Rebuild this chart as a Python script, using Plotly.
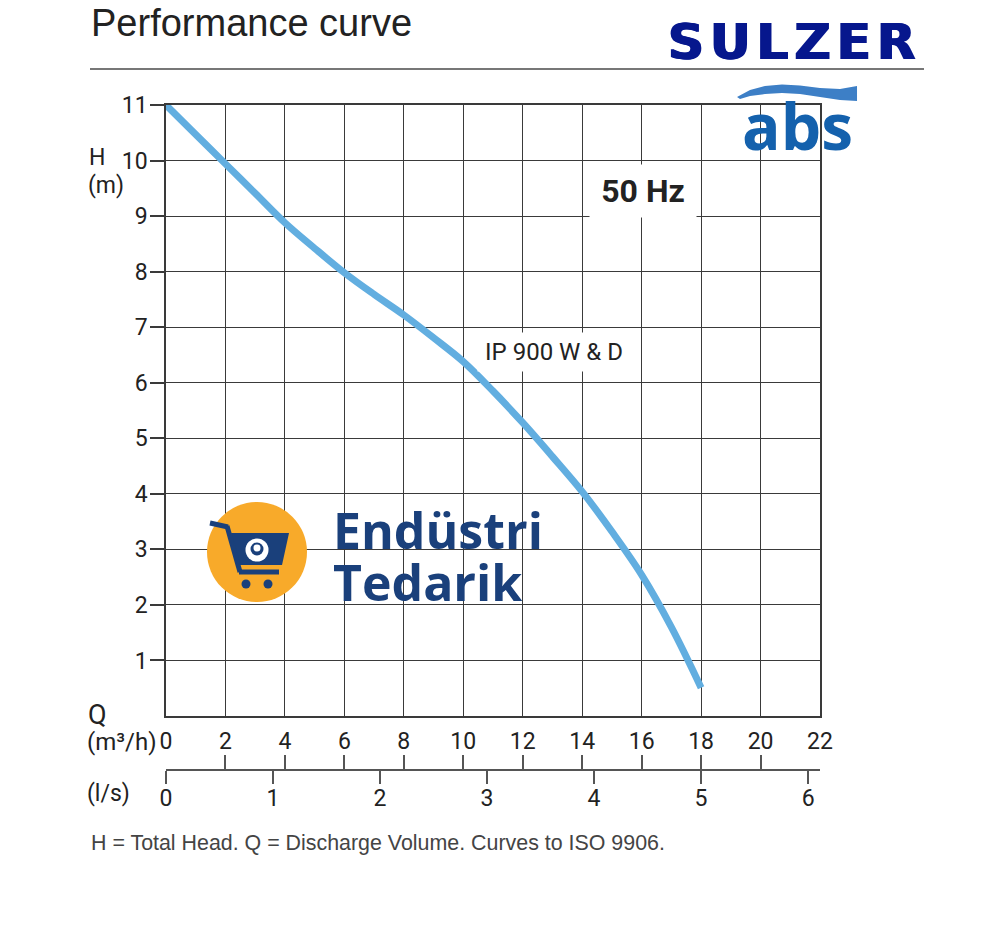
import plotly.graph_objects as go

# Pump curve IP 900 W & D, 50 Hz
flow_m3h = [0, 1, 2, 3, 4, 5, 6, 7, 8, 9, 10, 11, 12, 13, 14, 15, 16, 17, 18]
head_m = [11.0, 10.47, 9.94, 9.41, 8.88, 8.42, 7.98, 7.59, 7.22, 6.81, 6.38,
          5.85, 5.28, 4.67, 4.04, 3.32, 2.54, 1.6, 0.51]

q_ticks = list(range(0, 23, 2))
h_ticks = list(range(1, 12))
ls_ticks = list(range(0, 7))
M3H_PER_LS = 3.6

# the page puts the figure 8px in from the top-left corner (body margin)
OFF = 8
W, H = 1000 - OFF, 925 - OFF
PL, PR, PT, PB = 166, 820, 105, 800      # plot box on the page; PB = bottom of paper area
X_AXIS_Y = 716
LS_AXIS_Y = 770
PW, PH = PR - PL, PB - PT

DIN = "Roboto"
ARIAL = "Liberation Sans"
NAVY = "#1a407b"
GRID = "#3a3a3a"
SULZER_BLUE = "#06178d"


def px(x, y):
    """page pixel -> paper coordinates"""
    return (x - PL) / PW, (PB - y) / PH


def path(points):
    pts = [px(x, y) for x, y in points]
    return "M " + " L ".join(f"{a:.4f},{b:.4f}" for a, b in pts) + " Z"


def circle(cx, cy, r, color):
    x0, y0 = px(cx - r, cy + r)
    x1, y1 = px(cx + r, cy - r)
    return dict(type="circle", xref="paper", yref="paper", x0=x0, y0=y0, x1=x1, y1=y1,
                fillcolor=color, line_width=0, layer="above")


def label(text, x, y, size, font=DIN, color="#222", xanchor="left", yanchor="middle", **kw):
    ax, ay = px(x, y)
    return dict(text=text, x=ax, y=ay, xref="paper", yref="paper", showarrow=False,
                xanchor=xanchor, yanchor=yanchor, font=dict(family=font, size=size, color=color), **kw)


fig = go.Figure()
fig.add_trace(go.Scatter(
    x=flow_m3h, y=head_m, mode="lines", line=dict(color="#62aee0", width=7, shape="spline"),
    hoverinfo="skip", showlegend=False,
))

tick_font = dict(family=DIN, size=23, color="#222")
axis_common = dict(gridcolor=GRID, gridwidth=1.4, linecolor=GRID, linewidth=1.5,
                   showline=True, mirror=True, zeroline=False, tickfont=tick_font)

fig.update_layout(
    width=W, height=H,
    margin=dict(l=PL - OFF, r=W - (PR - OFF), t=PT - OFF, b=H - (PB - OFF)),
    paper_bgcolor="white", plot_bgcolor="white", showlegend=False,
    xaxis=dict(range=[0, 22], tickvals=q_ticks, ticks="outside", ticklen=4,
               tickcolor="rgba(0,0,0,0)", **axis_common),
    yaxis=dict(range=[0, 11], tickvals=h_ticks, ticks="outside", ticklen=14, tickwidth=1.5,
               tickcolor=GRID, ticklabelstandoff=-2,
               domain=[(PB - X_AXIS_Y) / PH, 1], **axis_common),
    # l/s scale, ticks pointing down
    xaxis2=dict(range=[0, 22 / M3H_PER_LS], tickvals=ls_ticks, overlaying="x", anchor="free",
                position=(PB - LS_AXIS_Y) / PH, side="bottom", showgrid=False, zeroline=False,
                showline=True, linecolor="#555", linewidth=1.5, ticks="outside", ticklen=13,
                tickwidth=1.5, tickcolor="#555", ticklabelstandoff=-5, tickfont=tick_font),
    # m3/h ticks pointing up from the same line
    xaxis3=dict(range=[0, 22], tickvals=q_ticks, overlaying="x", anchor="free",
                position=(PB - LS_AXIS_Y) / PH, side="bottom", showgrid=False, zeroline=False,
                showline=False, ticks="inside", ticklen=15, tickwidth=1.5, tickcolor="#555",
                showticklabels=False),
)
# empty traces so the extra axes are drawn
fig.add_trace(go.Scatter(x=[], y=[], xaxis="x2", yaxis="y", showlegend=False))
fig.add_trace(go.Scatter(x=[], y=[], xaxis="x3", yaxis="y", showlegend=False))

shapes = []
# rule under the heading
x0, y0 = px(90, 69)
x1, _ = px(924, 69)
shapes.append(dict(type="line", xref="paper", yref="paper", x0=x0, y0=y0, x1=x1, y1=y0,
                   line=dict(color="#777", width=2)))
# abs wave
shapes.append(dict(type="path", xref="paper", yref="paper", layer="above",
                   path=path([(737, 97), (750, 90), (765, 86), (782, 84.5), (800, 85.5),
                              (820, 88), (840, 89), (857, 86), (857, 101), (840, 100),
                              (820, 97), (800, 94), (782, 93), (765, 94), (750, 96), (740, 99)]),
                   fillcolor="#3d7fc6", line_width=0))
# watermark badge
shapes.append(circle(257, 552, 50, "#f8aa2a"))
shapes.append(dict(type="path", xref="paper", yref="paper", layer="above",
                   path=path([(231, 533), (289, 533), (282, 565), (238, 565)]),
                   fillcolor=NAVY, line_width=0))
for (xa, ya), (xb, yb) in [((210, 523), (228, 527)), ((227, 526), (240, 572)), ((239, 572), (279, 572))]:
    a0, b0 = px(xa, ya)
    a1, b1 = px(xb, yb)
    shapes.append(dict(type="line", xref="paper", yref="paper", x0=a0, y0=b0, x1=a1, y1=b1,
                       layer="above", line=dict(color=NAVY, width=5)))
shapes.append(circle(246, 584, 4.5, NAVY))
shapes.append(circle(268, 584, 4.5, NAVY))
shapes.append(circle(257, 550, 11.5, "white"))
shapes.append(circle(257, 549, 6.5, NAVY))
shapes.append(circle(257, 548, 3.5, "white"))
fig.update_layout(shapes=shapes)

sulzer = label("<b><span style='letter-spacing:6px'>SULZER</span></b>", 666, 42, 50,
               font="DejaVu Sans", color=SULZER_BLUE)
sulzer["font"]["shadow"] = f"1px 0px 0px {SULZER_BLUE}, -1px 0px 0px {SULZER_BLUE}"

annotations = [
    label("Performance curve", 89, 0, 38, font=ARIAL, color="#222", yanchor="top"),
    sulzer,
    label("<b>abs</b>", 797, 125, 64, font="Open Sans", color="#1461ad", xanchor="center"),
    label("H", 87, 157, 23),
    label("(m)", 86, 186, 23),
    label("Q", 86, 715, 27),
    label("(m³/h)", 85, 742, 24),
    label("(l/s)", 85, 793, 23),
    label("H = Total Head. Q = Discharge Volume. Curves to ISO 9906.", 89, 843, 21.4,
          font=ARIAL, color="#444"),
    label("<b>Endüstri</b>", 331, 530, 50, font="Open Sans", color=NAVY, height=48),
    label("<b>Tedarik</b>", 331, 582, 50, font="Open Sans", color=NAVY, height=48),
]
# curve / frequency labels sit on white boxes over the grid
annotations.append(dict(text="<b>50 Hz</b>", x=16.05, y=9.45, xref="x", yref="y", showarrow=False,
                        font=dict(family=DIN, size=32, color="#222"), bgcolor="white",
                        width=104, height=50))
annotations.append(dict(text="IP 900 W & D", x=13.05, y=6.55, xref="x", yref="y", showarrow=False,
                        font=dict(family=DIN, size=24, color="#222"), bgcolor="white",
                        width=150, height=36))
fig.update_layout(annotations=annotations)

fig.write_html("out.html")
